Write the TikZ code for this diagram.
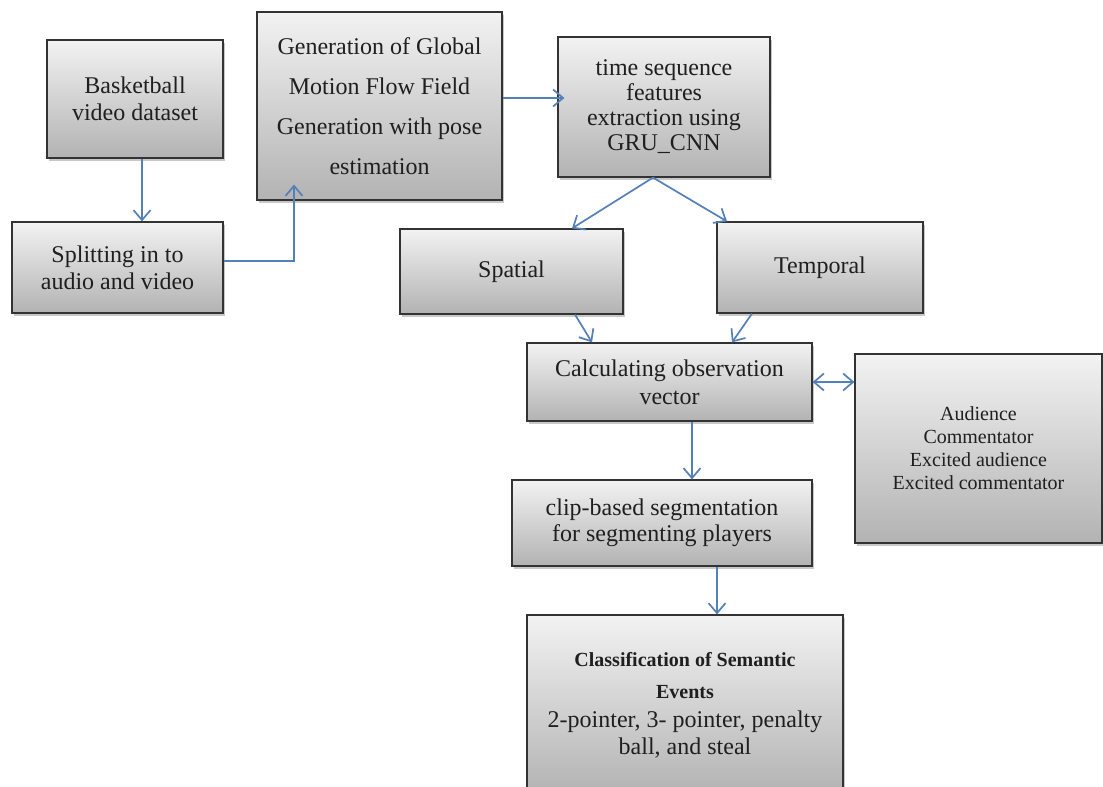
\documentclass[tikz,border=0pt]{standalone}
\usepackage{fontspec}
\setmainfont{Liberation Serif}
\usetikzlibrary{arrows.meta,calc,shadows}
\definecolor{arrowblue}{RGB}{84,128,186}
\tikzset{
  box/.style={draw=black!80, line width=1.2pt, top color=black!5, bottom color=black!30,
    inner sep=0pt, align=center, text=black!88,
    drop shadow={shadow xshift=2pt, shadow yshift=-3pt, opacity=.3, fill=black!70},
    font=\fontsize{24}{27}\selectfont},
  arr/.style={draw=arrowblue, line width=1.7pt, -{Straight Barb[length=10pt,width=17pt,line width=1.7pt]}},
  arrboth/.style={draw=arrowblue, line width=1.7pt, {Straight Barb[length=10pt,width=17pt,line width=1.7pt]}-{Straight Barb[length=10pt,width=17pt,line width=1.7pt]}}
}
\begin{document}
\begin{tikzpicture}[x=1pt,y=1pt]
\useasboundingbox (0,0) rectangle (1103,787);
\clip (0,0) rectangle (1103,787);
\fill[white] (0,0) rectangle (1103,787);

\node[box, minimum width=176, minimum height=118] (bball) at (135,688) {Basketball\\video dataset};
\node[box, minimum width=211, minimum height=91] (split) at (117.5,519.5) {Splitting in to\\audio and video};
\node[box, minimum width=245, minimum height=188, font=\fontsize{24}{40}\selectfont] (gen) at (379.5,681)
  {Generation of Global\\Motion Flow Field\\Generation with pose\\estimation};
\node[box, minimum width=212, minimum height=140, font=\fontsize{24}{25}\selectfont] (tseq) at (664,680)
  {time sequence\\features\\extraction using\\GRU\_CNN};
\node[box, minimum width=223, minimum height=85] (spat) at (511.5,515.5) {Spatial};
\node[box, minimum width=206, minimum height=91] (temp) at (820,519.5) {Temporal};
\node[box, minimum width=285, minimum height=78, font=\fontsize{24}{28}\selectfont] (calc) at (669.5,405)
  {Calculating observation\\vector};
\node[box, minimum width=247, minimum height=189, font=\fontsize{20}{23}\selectfont] (aud) at (978.5,338.5)
  {Audience\\Commentator\\Excited audience\\Excited commentator};
\node[box, minimum width=300, minimum height=86, font=\fontsize{24}{26}\selectfont] (clip) at (662,264)
  {clip-based segmentation\\for segmenting players};
\node[box, minimum width=316, minimum height=180] (cls) at (685,82)
  {{\bfseries\fontsize{20}{24}\selectfont Classification of Semantic}\\[5pt]
   {\bfseries\fontsize{20}{24}\selectfont Events}\\[2pt]
   2-pointer, 3- pointer, penalty\\ball, and steal};

\draw[arr] ($(bball.south)+(7,0)$) -- ($(bball.south |- split.north)+(7,0)$);
\draw[arr] ($(split.east)+(0,6.5)$) -| ($(gen.south)+(-85.5,16)$);
\draw[arr] ($(gen.east)+(0,8)$) -- ($(tseq.west |- gen.east)+(7,8)$);
\coordinate (fork) at ($(tseq.south)+(-11,0)$);
\draw[arr] (fork) -- ($(spat.north)+(60.5,0)$);
\draw[arr] (fork) -- ($(temp.north)+(-93,0)$);
\draw[arr] ($(spat.south)+(63.5,0)$) -- ($(calc.north)+(-77.5,0)$);
\draw[arr] ($(temp.south)+(-68,0)$) -- ($(calc.north)+(62.5,0)$);
\draw[arrboth] (calc.east) -- (calc.east -| aud.west);
\draw[arr] ($(calc.south)+(22.5,0)$) -- ($(calc.south |- clip.north)+(22.5,0)$);
\draw[arr] ($(clip.south)+(55,0)$) -- ($(clip.south |- cls.north)+(55,0)$);
\end{tikzpicture}
\end{document}
